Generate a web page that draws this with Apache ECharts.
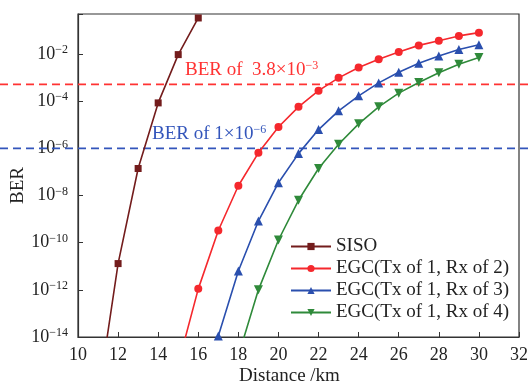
<!DOCTYPE html>
<html>
<head>
<meta charset="utf-8">
<script src="https://cdn.jsdelivr.net/npm/echarts@6/dist/echarts.min.js"></script>
<style>
  html, body { margin: 0; padding: 0; background: #fff; }
  #main { width: 529px; height: 387px; }
</style>
</head>
<body>
<div id="main"></div>
<script>
// distances (km) and BER values
var distSiso = [11, 12, 13, 14, 15, 16];
var berSiso = [2.5e-17, 1.3e-11, 1.4e-7, 8.5e-5, 9.5e-3, 0.34];

var distEgc2 = [15, 16, 17, 18, 19, 20, 21, 22, 23, 24, 25, 26, 27, 28, 29, 30];
var berEgc2 = [7e-16, 1.1e-12, 3.3e-10, 2.6e-8, 6.5e-7, 8.1e-6, 5.8e-5, 2.8e-4, 9.8e-4, 2.7e-3, 6.0e-3, 0.0123, 0.0234, 0.037, 0.059, 0.081];

var distEgc3 = [16, 17, 18, 19, 20, 21, 22, 23, 24, 25, 26, 27, 28, 29, 30];
var berEgc3 = [1e-17, 1.1e-14, 6.3e-12, 8.3e-10, 3.5e-8, 6.0e-7, 6.3e-6, 3.9e-5, 1.7e-4, 6.0e-4, 1.7e-3, 4.1e-3, 8.3e-3, 0.0155, 0.025];

var distEgc4 = [18, 19, 20, 21, 22, 23, 24, 25, 26, 27, 28, 29, 30];
var berEgc4 = [1.6e-15, 1e-12, 1.3e-10, 6.3e-9, 1.4e-7, 1.5e-6, 1.1e-5, 5.8e-5, 2.2e-4, 6.2e-4, 1.6e-3, 3.7e-3, 7.1e-3];

var seriesNames = ['SISO', 'EGC(Tx of 1, Rx of 2)', 'EGC(Tx of 1, Rx of 3)', 'EGC(Tx of 1, Rx of 4)'];

// threshold lines (the red one sits where the figure draws it)
var fecLine = 5.2e-4;
var berLine = 1e-6;

var yMinExp = -14;
var yMaxExp = -0.3;

var serif = '"Liberation Serif", "DejaVu Serif", serif';

function toLog(xs, ys) {
  var out = [];
  for (var i = 0; i < xs.length; i++) {
    out.push([xs[i], Math.log10(ys[i])]);
  }
  return out;
}

function powLabel(v) {
  if (Math.abs(v - Math.round(v)) > 1e-6) return '';
  var e = Math.round(v);
  return '{b|10}{s|' + (e < 0 ? '\u2212' + (-e) : e) + '}';
}

// base + superscript styles for rich text
function supRich(color, key) {
  var b = { fontSize: 18, lineHeight: 20, fontFamily: serif };
  var s = { fontSize: 12, lineHeight: 12, fontFamily: serif, verticalAlign: 'top' };
  b[key] = color;
  s[key] = color;
  return { b: b, s: s };
}

var chart = echarts.init(document.getElementById('main'), null, { renderer: 'canvas' });

function curve(name, data, color, symbol, size, rotate) {
  return {
    name: name,
    type: 'line',
    xAxisIndex: 0,
    yAxisIndex: 0,
    data: data,
    clip: true,
    symbol: symbol,
    symbolSize: size,
    symbolRotate: rotate || 0,
    lineStyle: { color: color, width: 1.6 },
    itemStyle: { color: color },
    z: 5
  };
}

var labelRed = supRich('#f33', 'fill');
labelRed.b.fontSize = 19;
var labelBlue = supRich('#3355bb', 'fill');
labelBlue.b.fontSize = 19;

var option = {
  animation: false,
  backgroundColor: '#fff',
  textStyle: { fontFamily: serif },
  grid: [
    { left: 78, right: 10, top: 14, bottom: 50, show: true, borderColor: '#333', borderWidth: 1.2, containLabel: false, outerBoundsMode: 'none' },
    { left: 0, right: 0, top: 14, bottom: 50, show: false, containLabel: false, outerBoundsMode: 'none' }
  ],
  xAxis: [
    {
      gridIndex: 0,
      type: 'value',
      min: 10,
      max: 32,
      interval: 2,
      name: 'Distance /km',
      nameLocation: 'middle',
      nameGap: 30,
      nameMoveOverlap: false,
      nameTextStyle: { fontSize: 19, color: '#222', fontFamily: serif, padding: [0, 18, 0, 0] },
      axisLine: { lineStyle: { color: '#333', width: 1.2 } },
      axisTick: { inside: true, length: 5, lineStyle: { color: '#333' } },
      axisLabel: { fontSize: 18, color: '#222', margin: 9, fontFamily: serif },
      splitLine: { show: false }
    },
    { gridIndex: 1, type: 'value', min: 0, max: 1, show: false }
  ],
  yAxis: [
    {
      gridIndex: 0,
      type: 'value',
      min: yMinExp,
      max: yMaxExp,
      interval: 2,
      name: 'BER',
      nameLocation: 'middle',
      nameGap: 50,
      nameRotate: 90,
      nameMoveOverlap: false,
      nameTextStyle: { fontSize: 19, color: '#222', fontFamily: serif, padding: [0, 20, 0, 0] },
      axisLine: { lineStyle: { color: '#333', width: 1.2 } },
      axisTick: { inside: true, length: 5, lineStyle: { color: '#333' } },
      axisLabel: {
        margin: 10,
        formatter: powLabel,
        rich: supRich('#222', 'color')
      },
      splitLine: { show: false }
    },
    { gridIndex: 1, type: 'value', min: yMinExp, max: yMaxExp, show: false }
  ],
  legend: {
    orient: 'vertical',
    left: 290,
    top: 237,
    padding: 0,
    itemGap: 3,
    itemWidth: 40,
    itemHeight: 9,
    data: seriesNames,
    textStyle: { fontSize: 19, color: '#222', fontFamily: serif, padding: [0, 0, 0, 0] }
  },
  graphic: [
    {
      type: 'text',
      left: 185,
      top: 60,
      style: { text: '{b|BER of  3.8\u00d710}{s|\u22123}', rich: labelRed }
    },
    {
      type: 'text',
      left: 152,
      top: 124,
      style: { text: '{b|BER of 1\u00d710}{s|\u22126}', rich: labelBlue }
    }
  ],
  series: [
    curve(seriesNames[0], toLog(distSiso, berSiso), '#731c1c', 'rect', 7),
    curve(seriesNames[1], toLog(distEgc2, berEgc2), '#f5282d', 'circle', 8),
    curve(seriesNames[2], toLog(distEgc3, berEgc3), '#2a4fae', 'triangle', 9),
    curve(seriesNames[3], toLog(distEgc4, berEgc4), '#2f8a3a', 'triangle', 9, 180),
    {
      name: 'fec',
      type: 'line',
      xAxisIndex: 1,
      yAxisIndex: 1,
      symbol: 'none',
      data: [[0, Math.log10(fecLine)], [1, Math.log10(fecLine)]],
      lineStyle: { color: '#f33', width: 1.6, type: [8, 5] },
      z: 3
    },
    {
      name: 'limit',
      type: 'line',
      xAxisIndex: 1,
      yAxisIndex: 1,
      symbol: 'none',
      data: [[0, Math.log10(berLine)], [1, Math.log10(berLine)]],
      lineStyle: { color: '#3355bb', width: 1.6, type: [8, 5] },
      z: 3
    }
  ]
};

chart.setOption(option);
</script>
</body>
</html>
